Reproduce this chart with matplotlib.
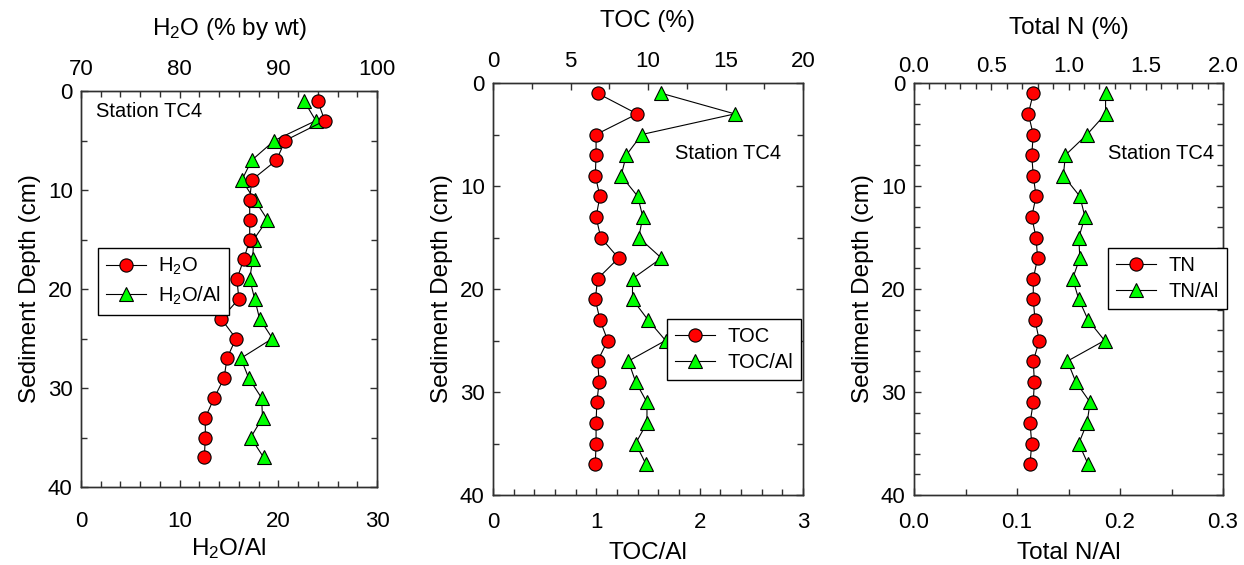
import matplotlib
matplotlib.use("Agg")
import matplotlib.pyplot as plt
from matplotlib.ticker import MultipleLocator, FormatStrFormatter

plt.rcParams['font.family'] = ['Liberation Sans', 'DejaVu Sans']
plt.rcParams['mathtext.fontset'] = 'custom'
plt.rcParams['mathtext.rm'] = 'Liberation Sans'
plt.rcParams['mathtext.it'] = 'Liberation Sans:italic'

# Sample depths (cm)
depth = [1, 3, 5, 7, 9, 11, 13, 15, 17, 19, 21, 23, 25, 27, 29, 31, 33, 35, 37]

# Water content
h2o = [94.0, 94.7, 90.7, 89.8, 87.3, 87.1, 87.1, 87.1, 86.5, 85.8, 86.0, 84.2,
       85.7, 84.8, 84.5, 83.5, 82.6, 82.6, 82.5]
h2o_al = [22.6, 23.8, 19.6, 17.3, 16.3, 17.6, 18.9, 17.5, 17.4, 17.1, 17.6, 18.1,
          19.4, 16.2, 17.0, 18.3, 18.4, 17.2, 18.5]

# Total organic carbon
toc = [6.75, 9.3, 6.65, 6.65, 6.6, 6.9, 6.65, 6.95, 8.1, 6.75, 6.6, 6.9,
       7.4, 6.75, 6.85, 6.7, 6.65, 6.65, 6.6]
toc_al = [1.63, 2.34, 1.44, 1.29, 1.24, 1.40, 1.45, 1.41, 1.63, 1.35, 1.35, 1.50,
          1.67, 1.31, 1.38, 1.49, 1.49, 1.38, 1.48]

# Total nitrogen
tn = [0.772, 0.740, 0.772, 0.762, 0.772, 0.790, 0.762, 0.790, 0.800, 0.772, 0.772,
      0.783, 0.811, 0.772, 0.779, 0.772, 0.751, 0.762, 0.751]
tn_al = [0.186, 0.186, 0.168, 0.147, 0.145, 0.161, 0.166, 0.160, 0.161, 0.154, 0.160,
         0.169, 0.185, 0.149, 0.157, 0.171, 0.168, 0.160, 0.169]

RED = '#ff0000'
GREEN = '#00ff00'
SPINE = '#303030'
TFS = 16      # tick labels
AFS = 17.5    # axis labels
LFS = 14.5    # legend / annotation

fig = plt.figure(figsize=(12.44, 5.65), dpi=100)

W, H = 1244.0, 565.0


def make_axes(x0, x1, y0, y1):
    return fig.add_axes([x0 / W, (H - y1) / H, (x1 - x0) / W, (y1 - y0) / H])


panels = [
    dict(box=(81, 377, 91, 487), top=h2o, bot=h2o_al,
         top_lim=(70, 100), top_major=10, top_minor=2, top_fmt='%d',
         bot_lim=(0, 30), bot_major=10, bot_minor=2, bot_fmt='%d',
         y_minor=5, bot_pad=17.5, top_pad=8, bot_lpad=3, top_lpad=17,
         top_label='H$_\\mathregular{2}$O (% by wt)',
         bot_label='H$_\\mathregular{2}$O/Al',
         names=('H$_\\mathregular{2}$O', 'H$_\\mathregular{2}$O/Al'),
         leg=(0.057, 0.604), station=(0.05, 0.947)),
    dict(box=(493, 803, 83, 495), top=toc, bot=toc_al,
         top_lim=(0, 20), top_major=5, top_minor=2.5, top_fmt='%d',
         bot_lim=(0, 3), bot_major=1, bot_minor=0.2, bot_fmt='%d',
         y_minor=5, bot_pad=12.5, top_pad=8, bot_lpad=6, top_lpad=17,
         top_label='TOC (%)', bot_label='TOC/Al',
         names=('TOC', 'TOC/Al'),
         leg=(0.561, 0.427), station=(0.587, 0.83)),
    dict(box=(914, 1223, 83, 495), top=tn, bot=tn_al,
         top_lim=(0, 2.0), top_major=0.5, top_minor=0.1, top_fmt='%.1f',
         bot_lim=(0, 0.3), bot_major=0.1, bot_minor=0.05, bot_fmt='%.1f',
         y_minor=2, bot_pad=12.5, top_pad=4, bot_lpad=6, top_lpad=16,
         top_label='Total N (%)', bot_label='Total N/Al',
         names=('TN', 'TN/Al'),
         leg=(0.628, 0.60), station=(0.628, 0.83)),
]

for p in panels:
    ax = make_axes(*p['box'])
    ax2 = ax.twiny()

    ln_tri, = ax.plot(p['bot'], depth, '-', color='black', lw=0.8,
                      marker='^', ms=10.5, mfc=GREEN, mec='black', mew=0.8,
                      label=p['names'][1])
    ln_cir, = ax2.plot(p['top'], depth, '-', color='black', lw=0.8,
                       marker='o', ms=9.5, mfc=RED, mec='black', mew=0.8,
                       label=p['names'][0])

    ax.set_ylim(40, 0)
    ax.set_xlim(*p['bot_lim'])
    ax2.set_xlim(*p['top_lim'])

    ax.yaxis.set_major_locator(MultipleLocator(10))
    ax.yaxis.set_minor_locator(MultipleLocator(p['y_minor']))
    ax.xaxis.set_major_locator(MultipleLocator(p['bot_major']))
    ax.xaxis.set_minor_locator(MultipleLocator(p['bot_minor']))
    ax.xaxis.set_major_formatter(FormatStrFormatter(p['bot_fmt']))
    ax2.xaxis.set_major_locator(MultipleLocator(p['top_major']))
    ax2.xaxis.set_minor_locator(MultipleLocator(p['top_minor']))
    ax2.xaxis.set_major_formatter(FormatStrFormatter(p['top_fmt']))

    ax.tick_params(axis='both', which='both', direction='in', labelsize=TFS,
                   width=1.0, color=SPINE)
    ax.tick_params(axis='y', which='both', left=True, right=True, pad=6)
    ax.tick_params(axis='x', which='both', top=False, bottom=True,
                   pad=p['bot_pad'])
    ax.tick_params(which='major', length=5)
    ax.tick_params(which='minor', length=4)
    ax2.tick_params(axis='x', which='both', direction='in', labelsize=TFS,
                    width=1.0, color=SPINE, pad=p['top_pad'])
    ax2.tick_params(which='major', length=5)
    ax2.tick_params(which='minor', length=4)

    for a in (ax, ax2):
        for s in a.spines.values():
            s.set_color(SPINE)
            s.set_linewidth(1.0)

    ax.set_ylabel('Sediment Depth (cm)', fontsize=AFS, labelpad=5)
    ax.set_xlabel(p['bot_label'], fontsize=AFS, labelpad=p['bot_lpad'])
    ax2.set_xlabel(p['top_label'], fontsize=AFS, labelpad=p['top_lpad'])

    ax.text(p['station'][0], p['station'][1], 'Station TC4', transform=ax.transAxes,
            fontsize=LFS, ha='left', va='center')

    leg = ax2.legend(handles=[ln_cir, ln_tri], loc='upper left',
                     bbox_to_anchor=p['leg'], borderaxespad=0, fontsize=LFS,
                     frameon=True, fancybox=False, framealpha=1,
                     edgecolor='black', handlelength=2.0, handletextpad=0.6,
                     borderpad=0.4, labelspacing=0.35)
    leg.get_frame().set_linewidth(1.0)

fig.savefig('out.png', dpi=100)
